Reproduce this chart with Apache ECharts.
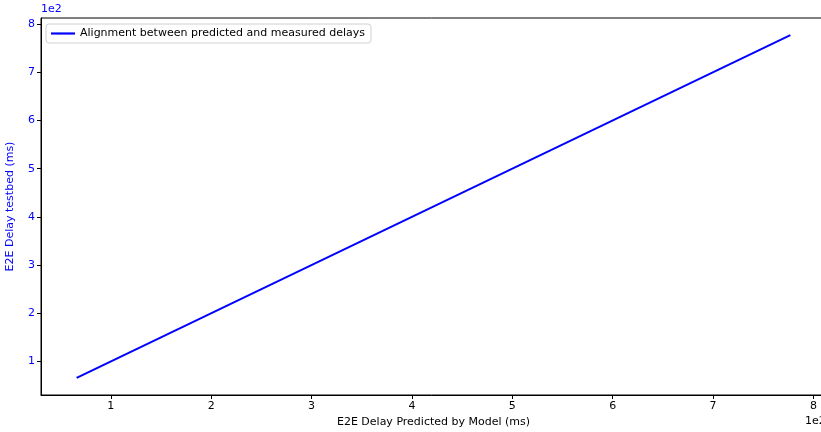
<!DOCTYPE html>
<html><head><meta charset="utf-8">
<script src="https://cdn.jsdelivr.net/npm/echarts@6/dist/echarts.min.js"></script>
<style>html,body{margin:0;padding:0;background:#fff}#c{width:821px;height:432px}</style>
</head><body><div id="c"></div>
<script>
const predicted = [66, 777];
const measured = [66, 777];
const tickValues = [100, 200, 300, 400, 500, 600, 700, 800];
const seriesName = 'Alignment between predicted and measured delays';
const xName = 'E2E Delay Predicted by Model (ms)';
const yName = 'E2E Delay testbed (ms)';

const FONT = 'DejaVu Sans';
const FS = 11;
const chart = echarts.init(document.getElementById('c'), null, {renderer: 'canvas'});
const axisMin = 30.5, axisMax = 812.5;
chart.setOption({
  animation: false,
  textStyle: {fontFamily: FONT},
  grid: {left: 41, top: 18, right: -5, bottom: 37, show: true, borderColor: '#000', borderWidth: 1, backgroundColor: 'transparent', outerBoundsMode: 'none', containLabel: false},
  legend: {
    show: true, left: 46, top: 24, orient: 'vertical',
    backgroundColor: '#fff', borderColor: '#d0d0d0', borderWidth: 1, borderRadius: 3,
    padding: [4, 6, 4, 5], itemWidth: 24, itemHeight: 10, itemGap: 4,
    textStyle: {fontFamily: FONT, fontSize: FS, color: '#000'},
    data: [{name: seriesName, icon: 'path://M0,4L22,4L22,6L0,6Z'}]
  },
  xAxis: {
    type: 'value', min: axisMin, max: axisMax,
    name: xName, nameLocation: 'middle', nameGap: 22,
    nameTextStyle: {fontFamily: FONT, fontSize: FS, color: '#000'},
    axisLine: {show: true, onZero: false, lineStyle: {color: '#000', width: 1}},
    axisTick: {show: true, length: 4, lineStyle: {color: '#000'}, customValues: tickValues},
    axisLabel: {fontFamily: FONT, fontSize: FS, color: '#000', margin: 6, customValues: tickValues, formatter: v => String(Math.round(v / 100))},
    splitLine: {show: false}
  },
  yAxis: {
    type: 'value', min: axisMin, max: axisMax,
    name: yName, nameLocation: 'middle', nameGap: 25,
    nameTextStyle: {fontFamily: FONT, fontSize: FS, color: '#0000ff'},
    axisLine: {show: true, onZero: false, lineStyle: {color: '#000', width: 1}},
    axisTick: {show: true, length: 4, lineStyle: {color: '#000'}, customValues: tickValues},
    axisLabel: {fontFamily: FONT, fontSize: FS, color: '#0000ff', margin: 6, customValues: tickValues, formatter: v => String(Math.round(v / 100))},
    splitLine: {show: false}
  },
  graphic: [
    {type: 'text', left: 41, top: 4, style: {text: '1e2', fontFamily: FONT, fontSize: FS, fill: '#0000ff'}},
    {type: 'text', left: 805, top: 416, style: {text: '1e2', fontFamily: FONT, fontSize: FS, fill: '#000'}}
  ],
  series: [{
    name: seriesName, type: 'line', showSymbol: false, symbol: 'none',
    lineStyle: {color: '#0000ff', width: 2}, itemStyle: {color: '#0000ff'},
    data: predicted.map((x, i) => [x, measured[i]])
  }]
});
</script></body></html>
